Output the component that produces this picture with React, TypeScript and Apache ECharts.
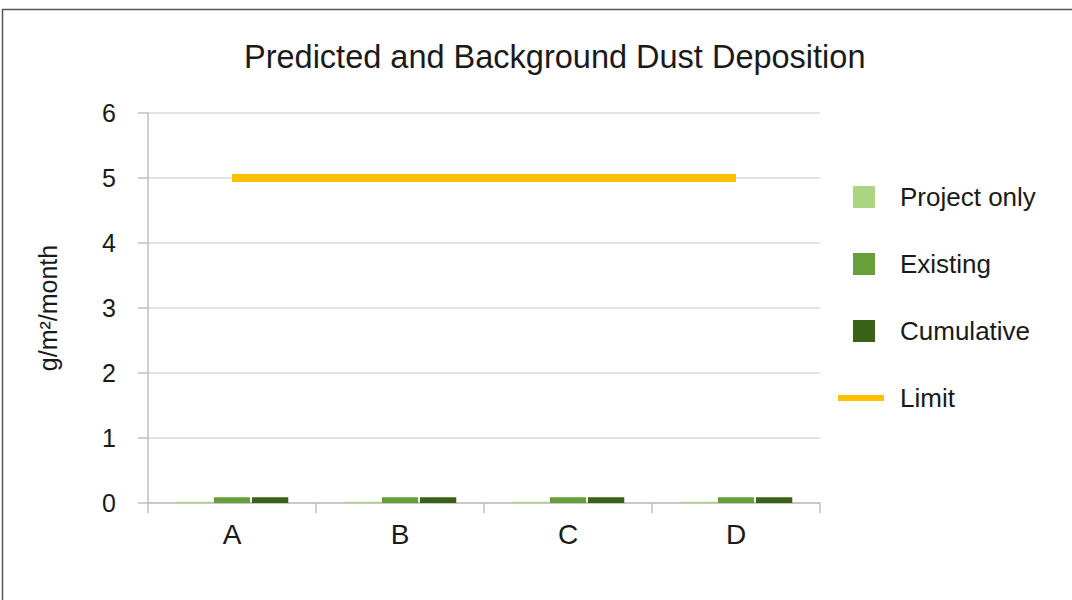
import React, { useEffect, useRef } from "react";
import * as echarts from "echarts";

const categories = ["A", "B", "C", "D"];
const projectOnly = [0.02, 0.02, 0.02, 0.02];
const existing = [0.09, 0.09, 0.09, 0.09];
const cumulative = [0.09, 0.09, 0.09, 0.09];
const limit = [5, 5, 5, 5];

const FONT = "Liberation Sans, Arial, sans-serif";

export default function App() {
  const ref = useRef<HTMLDivElement>(null);
  useEffect(() => {
    const chart = echarts.init(ref.current!, null, { renderer: "svg" });
    chart.setOption({
      animation: false,
      backgroundColor: "#ffffff",
      textStyle: { fontFamily: FONT },
      title: {
        text: "Predicted and Background Dust Deposition",
        left: 239,
        top: 35,
        textStyle: { fontFamily: FONT, fontSize: 32.5, fontWeight: "normal", color: "#1a1a1a" },
      },
      graphic: [
        {
          type: "rect",
          shape: { x: 2.5, y: 9.5, width: 1200, height: 800 },
          style: { fill: "none", stroke: "#555555", lineWidth: 1.5 },
          silent: true,
        },
      ],
      legend: [
        {
          orient: "vertical",
          left: 848,
          top: 179,
          itemWidth: 22,
          itemHeight: 22,
          itemGap: 41,
          icon: "rect",
          textStyle: { fontFamily: FONT, fontSize: 26, lineHeight: 22, color: "#1a1a1a", padding: [0, 0, 0, 20] },
          data: ["Project only", "Existing", "Cumulative"],
        },
        {
          orient: "vertical",
          left: 833,
          top: 380,
          itemWidth: 46,
          itemHeight: 6,
          icon: "rect",
          textStyle: { fontFamily: FONT, fontSize: 26, lineHeight: 22, color: "#1a1a1a", padding: [0, 0, 0, 11] },
          data: ["Limit"],
        },
      ],
      grid: { left: 148, right: 252, top: 113, bottom: 97 },
      xAxis: {
        type: "category",
        data: categories,
        axisLine: { lineStyle: { color: "#bfbfbf", width: 1.5 } },
        axisTick: { show: true, length: 10, lineStyle: { color: "#bfbfbf", width: 1.5 } },
        axisLabel: { margin: 17, fontSize: 28, color: "#1a1a1a", fontFamily: FONT },
      },
      yAxis: {
        type: "value",
        min: 0,
        max: 6,
        interval: 1,
        name: "g/m²/month",
        nameLocation: "middle",
        nameRotate: 90,
        nameGap: 88,
        nameTextStyle: { fontSize: 25, color: "#1a1a1a", fontFamily: FONT },
        axisLine: { show: true, lineStyle: { color: "#bfbfbf", width: 1.5 } },
        axisTick: { show: true, length: 10, lineStyle: { color: "#bfbfbf", width: 1.5 } },
        axisLabel: { margin: 32, fontSize: 25, color: "#1a1a1a", fontFamily: FONT },
        splitLine: { lineStyle: { color: "#d9d9d9", width: 1.5 } },
      },
      series: [
        {
          name: "Project only",
          type: "bar",
          data: projectOnly,
          barCategoryGap: "33%",
          barGap: "5%",
          itemStyle: { color: "#acd581" },
        },
        {
          name: "Existing",
          type: "bar",
          data: existing,
          itemStyle: { color: "#67a03a" },
        },
        {
          name: "Cumulative",
          type: "bar",
          data: cumulative,
          itemStyle: { color: "#3a6216" },
        },
        {
          name: "Limit",
          type: "line",
          data: limit,
          symbol: "none",
          lineStyle: { color: "#ffc000", width: 8, cap: "butt" },
          itemStyle: { color: "#ffc000" },
        },
      ],
    });
    return () => chart.dispose();
  }, []);
  return <div ref={ref} style={{ position: "fixed", left: 0, top: 0, width: 1072, height: 600 }} />;
}
